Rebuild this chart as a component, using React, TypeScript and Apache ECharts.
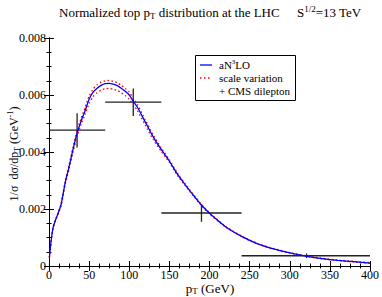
import React, { useEffect, useRef } from "react";
import * as echarts from "echarts";

const ptValues = [0.5, 2.5, 5, 7.5, 10, 15, 20, 25, 30, 35, 40, 45, 50, 55, 60, 65, 70, 75, 80, 85, 90, 95, 100, 105, 110, 120, 130, 140, 150, 160, 170, 180, 190, 200, 220, 240, 260, 280, 300, 320, 340, 360, 380, 400];

const an3loValues = [0.0003, 0.00085, 0.00133, 0.00157, 0.00175, 0.00215, 0.0029, 0.00348, 0.0041, 0.00466, 0.00508, 0.00545, 0.00585, 0.0061, 0.00624, 0.00634, 0.0064, 0.00641, 0.00638, 0.00633, 0.00624, 0.00613, 0.006, 0.00578, 0.00558, 0.00505, 0.00452, 0.00408, 0.00368, 0.00322, 0.00284, 0.00248, 0.00214, 0.00185, 0.00138, 0.00104, 0.00078, 0.0006, 0.00046, 0.00035, 0.00026, 0.0002, 0.00015, 0.0001];

const scaleUpValues = [0.0003, 0.00086, 0.00134, 0.00158, 0.00177, 0.00218, 0.00295, 0.00355, 0.00418, 0.00475, 0.00518, 0.00556, 0.00596, 0.00621, 0.00636, 0.00645, 0.0065, 0.00651, 0.00648, 0.00643, 0.00634, 0.00623, 0.0061, 0.00588, 0.00567, 0.00513, 0.00459, 0.00414, 0.00373, 0.00326, 0.00287, 0.00251, 0.00216, 0.00187, 0.00139, 0.00105, 0.00079, 0.00061, 0.00047, 0.00036, 0.00027, 0.00021, 0.00016, 0.00012];

const scaleDownValues = [0.00029, 0.00083, 0.0013, 0.00154, 0.00172, 0.0021, 0.00284, 0.0034, 0.004, 0.00455, 0.00496, 0.00532, 0.0057, 0.00594, 0.00608, 0.00617, 0.00622, 0.00623, 0.0062, 0.00616, 0.00608, 0.00598, 0.00585, 0.00565, 0.00546, 0.00494, 0.00443, 0.00402, 0.00363, 0.00318, 0.00281, 0.00246, 0.00212, 0.00183, 0.00137, 0.00103, 0.00077, 0.00059, 0.00045, 0.00034, 0.00025, 0.00019, 0.00014, 0.0001];

// CMS dilepton: bin low, bin high, centre, value, err low, err high
const cmsBinLow = [0, 70, 140, 240];
const cmsBinHigh = [70, 140, 240, 400];
const cmsCentre = [35, 105, 190, 321];
const cmsValue = [0.00477, 0.00575, 0.00186, 0.00036];
const cmsErrLow = [0.00416, 0.00526, 0.00155, 0.00028];
const cmsErrHigh = [0.00536, 0.00623, 0.00214, 0.00044];

const xTicks = { min: 0, max: 400, interval: 50 };
const yTicks = { min: 0, max: 0.008, interval: 0.002 };

const FONT = "Liberation Serif";

export default function App() {
  const ref = useRef<HTMLDivElement>(null);
  useEffect(() => {
    if (!ref.current) return;
    const chart = echarts.init(ref.current, null, { renderer: "svg" });
    const pairs = (ys: number[]) => ptValues.map((x, i) => [x, ys[i]]);
    const cmsData = cmsBinLow.map((lo, i) => [lo, cmsBinHigh[i], cmsCentre[i], cmsValue[i], cmsErrLow[i], cmsErrHigh[i]]);

    const axisCommon = {
      axisLine: { show: true, lineStyle: { color: "#000", width: 1 } },
      axisTick: { show: true, inside: true, length: 5, lineStyle: { color: "#000" } },
      minorTick: { show: true, splitNumber: 4, length: 2.5, lineStyle: { color: "#000" } },
      splitLine: { show: false },
    };

    chart.setOption({
      animation: false,
      backgroundColor: "#fff",
      grid: { left: 49, right: 10, top: 38, bottom: 31 },
      xAxis: [
        {
          type: "value", position: "bottom", ...xTicks, ...axisCommon,
          axisLabel: { fontFamily: FONT, fontSize: 12, color: "#000", margin: 3 },
        },
        {
          type: "value", position: "top", ...xTicks, ...axisCommon,
          axisLabel: { show: false },
        },
      ],
      yAxis: [
        {
          type: "value", position: "left", ...yTicks, ...axisCommon,
          axisLabel: {
            fontFamily: FONT, fontSize: 12, color: "#000", margin: 3,
            formatter: (v: number) => (v === 0 ? "0" : v.toFixed(3)),
          },
        },
        {
          type: "value", position: "right", ...yTicks, ...axisCommon,
          axisLabel: { show: false },
        },
      ],
      series: [
        {
          name: "scale variation up", type: "line", data: pairs(scaleUpValues), showSymbol: false, smooth: 0.2,
          lineStyle: { color: "#ff0000", width: 1.3, type: [1.5, 2.5] },
        },
        {
          name: "scale variation down", type: "line", data: pairs(scaleDownValues), showSymbol: false, smooth: 0.2,
          lineStyle: { color: "#ff0000", width: 1.3, type: [1.5, 2.5] },
        },
        {
          name: "aN3LO", type: "line", data: pairs(an3loValues), showSymbol: false, smooth: 0.2,
          lineStyle: { color: "#0000ff", width: 1.3 },
        },
        {
          name: "CMS dilepton", type: "custom", data: cmsData,
          renderItem: (params: any, api: any) => {
            const lo = api.coord([api.value(0), api.value(3)]);
            const hi = api.coord([api.value(1), api.value(3)]);
            const eLo = api.coord([api.value(2), api.value(4)]);
            const eHi = api.coord([api.value(2), api.value(5)]);
            const style = { stroke: "#222", lineWidth: 1.3 };
            return {
              type: "group",
              children: [
                { type: "line", shape: { x1: lo[0], y1: lo[1], x2: hi[0], y2: hi[1] }, style },
                { type: "line", shape: { x1: eLo[0], y1: eLo[1], x2: eHi[0], y2: eHi[1] }, style },
              ],
            };
          },
        },
      ],
      graphic: [
        {
          type: "text", left: 59, top: 4,
          style: {
            text: "Normalized top p{sub|T} distribution at the LHC",
            fontFamily: FONT, fontSize: 13, fill: "#000", lineHeight: 16,
            rich: { sub: { fontFamily: FONT, fontSize: 9, lineHeight: 9, verticalAlign: "bottom", fill: "#000" } },
          },
        },
        {
          type: "text", left: 297, top: 4,
          style: {
            text: "S{sup|1/2}=13 TeV",
            fontFamily: FONT, fontSize: 13, fill: "#000", lineHeight: 16,
            rich: { sup: { fontFamily: FONT, fontSize: 9, lineHeight: 9, verticalAlign: "top", fill: "#000" } },
          },
        },
        {
          type: "text", x: 210, y: 288,
          style: {
            text: "p{sub|T} (GeV)",
            fontFamily: FONT, fontSize: 13, fill: "#000", lineHeight: 14,
            align: "center", verticalAlign: "middle",
            rich: { sub: { fontFamily: FONT, fontSize: 9, lineHeight: 8, verticalAlign: "bottom", fill: "#000" } },
          },
        },
        {
          type: "text", x: 14, y: 154, rotation: Math.PI / 2,
          style: {
            text: "1/σ  dσ/dp{sub|T} (GeV{sup|-1})",
            fontFamily: FONT, fontSize: 12, fill: "#000", lineHeight: 15,
            align: "center", verticalAlign: "middle",
            rich: {
              sub: { fontFamily: FONT, fontSize: 8, lineHeight: 8, verticalAlign: "bottom", fill: "#000" },
              sup: { fontFamily: FONT, fontSize: 8, lineHeight: 8, verticalAlign: "top", fill: "#000" },
            },
          },
        },
        {
          type: "rect", shape: { x: 195.5, y: 55.5, width: 100, height: 45 },
          style: { fill: "#fff", stroke: "#000", lineWidth: 1 },
        },
        { type: "line", shape: { x1: 200, y1: 65, x2: 212, y2: 65 }, style: { stroke: "#0000ff", lineWidth: 1.3 } },
        { type: "line", shape: { x1: 200, y1: 78, x2: 212, y2: 78 }, style: { stroke: "#ff0000", lineWidth: 1.3, lineDash: [1.5, 2.5] } },
        {
          type: "text", x: 219, y: 65,
          style: {
            text: "aN{sup|3}LO", fontFamily: FONT, fontSize: 11, fill: "#000", verticalAlign: "middle", lineHeight: 14,
            rich: { sup: { fontFamily: FONT, fontSize: 7, lineHeight: 7, verticalAlign: "top", fill: "#000" } },
          },
        },
        { type: "text", x: 219, y: 78, style: { text: "scale variation", fontFamily: FONT, fontSize: 11, fill: "#000", verticalAlign: "middle" } },
        { type: "text", x: 219, y: 91, style: { text: "+ CMS dilepton", fontFamily: FONT, fontSize: 11, fill: "#000", verticalAlign: "middle" } },
      ],
    });
    return () => chart.dispose();
  }, []);
  return <div ref={ref} style={{ position: "fixed", left: 0, top: 0, width: 382, height: 297 }} />;
}
